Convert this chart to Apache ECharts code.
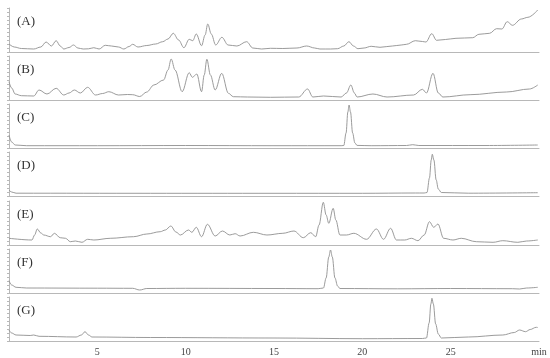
<!DOCTYPE html>
<html>
<head>
<meta charset="utf-8">
<script src="https://cdn.jsdelivr.net/npm/echarts@6/dist/echarts.min.js"></script>
<style>html,body{margin:0;padding:0;background:#fff}#c{width:550px;height:358px}</style>
</head>
<body>
<div id="c"></div>
<script>
// Panel labels
const panelLabels = ['(A)', '(B)', '(C)', '(D)', '(E)', '(F)', '(G)'];
// x tick labels (every 5 min from 0 to 30)
const xTickLabels = ['', '5', '10', '15', '20', '25', 'min'];
// Traces: [retention time (min), relative intensity]
const traceA = [[0,8],[0.3,5],[0.7,3.5],[1.4,3],[1.8,5],[2.1,10],[2.4,6],[2.67,11.3],[2.9,6],[3.1,3],[3.4,4.5],[3.65,7],[3.9,4],[4.2,3],[4.5,3.2],[4.8,4.3],[5.1,3],[5.45,6.7],[5.8,6],[6.2,5],[6.5,3],[6.8,5.5],[7.0,7.7],[7.3,5],[7.8,6.5],[8.3,8],[8.7,10.3],[9.0,13],[9.3,18.7],[9.6,12],[9.9,4.3],[10.2,12.7],[10.4,11.3],[10.6,18],[10.9,6.3],[11.1,17],[11.25,28],[11.45,18],[11.7,7],[12.05,14.7],[12.4,7],[12.9,6],[13.45,10.3],[13.8,4],[14.3,3],[14.8,3.7],[15.5,3.5],[16.3,4],[16.85,6],[17.3,4],[17.6,3],[18.2,3],[18.6,3.3],[18.95,6],[19.24,10.3],[19.5,6],[19.75,3.3],[20.1,4],[20.5,5.7],[21.0,4.7],[21.7,6],[22.2,7],[22.5,7.7],[23.0,11.3],[23.4,10.5],[23.6,10],[23.93,18.3],[24.2,11.7],[24.7,12.5],[25.3,13.7],[26.25,14.3],[26.6,17.7],[27.2,18.7],[27.6,23.3],[27.9,23],[28.2,30.3],[28.5,26.7],[29.0,33],[29.37,34.7],[29.93,42]];
const traceB = [[0,18.3],[0.15,12],[0.35,6],[0.7,4.3],[1.4,4],[1.7,10],[2.15,6],[2.67,11.7],[3.1,5],[3.4,7],[3.7,10],[4.04,7],[4.45,12.7],[4.9,5],[5.3,6.5],[5.65,8.3],[6.2,5],[6.7,5.5],[7.0,5.3],[7.4,3.5],[7.8,8],[8.2,15],[8.75,20],[9.0,30],[9.18,41],[9.4,30],[9.8,8.3],[10.2,27.3],[10.38,22.7],[10.63,26],[10.9,8.3],[11.05,25],[11.2,40.7],[11.4,25],[11.67,10],[12.04,26.7],[12.42,6.7],[12.7,3.3],[13.5,3],[14.8,2.7],[16.4,3],[16.9,11],[17.2,3],[17.8,4],[18.8,3],[19.1,7],[19.35,15],[19.55,7],[19.7,3],[20.6,6],[21.4,3],[22.9,5],[23.4,10.7],[23.63,7],[24.0,26.7],[24.3,7],[24.56,3],[26.1,5.3],[28.15,8],[29.46,11],[29.93,15]];
const traceC = [[0,13],[0.15,6],[0.35,3],[1.0,2.3],[5,2.3],[10,2.5],[15,2.3],[18.8,2.3],[18.95,2.5],[19.08,15],[19.18,36],[19.25,43],[19.33,36],[19.45,15],[19.58,5],[19.7,2.6],[20.5,2.3],[22.5,2.5],[22.85,3.3],[23.2,2.5],[27,2.5],[29.93,3]];
const traceD = [[0,6],[0.15,4],[0.4,2.8],[8,2.7],[15,2.7],[20,2.7],[23.0,3],[23.5,3],[23.66,3.5],[23.8,18],[23.9,36],[23.96,41.7],[24.05,36],[24.18,16],[24.3,7],[24.47,3.5],[26,2.8],[29.93,3.3]];
const traceE = [[0,6.7],[1.3,5],[1.45,10],[1.6,16],[1.8,12],[1.97,10],[2.35,8.3],[2.57,11.7],[2.9,7.3],[3.2,6.7],[3.47,3.3],[3.76,4],[4.13,2.7],[4.45,5.7],[4.8,5],[5.73,6.7],[7.05,8.3],[7.8,11],[8.56,13.3],[8.85,15],[9.16,19],[9.45,13],[9.7,10],[10.16,15],[10.35,12.7],[10.6,17.7],[10.9,8.3],[11.23,20.7],[11.67,9],[12.08,14],[12.5,10],[12.8,11.3],[13.08,9],[13.83,12.7],[14.6,10],[15.5,11.7],[16.13,14],[16.66,7.3],[17.08,12.3],[17.36,8.3],[17.55,20],[17.79,42.7],[17.95,30],[18.1,21.7],[18.35,36.7],[18.5,25],[18.73,10],[19.1,10],[19.52,11.7],[20.24,5.7],[20.8,16],[21.2,5.7],[21.6,16.7],[21.93,5],[22.4,5],[22.78,6.7],[23.15,4.3],[23.5,10],[23.8,23.3],[24.04,17.7],[24.28,21],[24.6,6.7],[25.13,5],[25.6,6.7],[26.45,3.3],[27.4,2.7],[27.95,4.3],[28.8,2.7],[29.3,4],[29.93,5]];
const traceF = [[0,12.3],[0.15,8],[0.4,5.7],[1.0,5],[5,4.8],[7.0,4.7],[7.4,3],[7.8,4.5],[10,4.7],[15,4.5],[17.5,4.3],[17.8,5],[17.95,15],[18.1,36],[18.2,43],[18.3,36],[18.45,15],[18.6,7],[18.73,4.5],[22,4.2],[25,4.5],[28.5,4.3],[28.9,4],[29.3,5],[29.93,5.7]];
const traceG = [[0,11],[0.15,8],[0.4,6],[1.2,5.5],[1.4,6],[1.7,4.7],[3.8,4],[4.1,6],[4.3,9.3],[4.5,6],[4.7,4],[8,3.5],[15,3],[20,2.3],[23.4,2.5],[23.63,3],[23.78,18],[23.88,37],[23.94,42.7],[24.02,37],[24.15,17],[24.3,7],[24.47,3],[26,4],[27.95,6],[28.6,8.5],[28.9,11],[29.24,9.3],[29.5,11.5],[29.84,13.7],[29.93,13.5]];

const traces = [traceA, traceB, traceC, traceD, traceE, traceF, traceG];
const gridTops = [8, 56, 104, 152, 201, 249, 297];
const gridH = 44;

const axisColor = '#b8b8b8';
const lineColor = '#909090';

const grids = [], xAxes = [], yAxes = [], series = [], graphics = [];
traces.forEach((tr, i) => {
  const last = i === traces.length - 1;
  grids.push({left: 9, right: 11, top: gridTops[i], height: gridH});
  xAxes.push({
    type: 'value', gridIndex: i, min: 0, max: 30, interval: 5,
    axisLine: {show: true, lineStyle: {color: axisColor, width: 1}},
    axisTick: {show: false},
    splitLine: {show: false},
    axisLabel: last ? {
      show: true, margin: 6, color: '#444', fontFamily: 'Liberation Serif', fontSize: 10,
      formatter: v => xTickLabels[Math.round(v / 5)],
      showMinLabel: true, showMaxLabel: true
    } : {show: false}
  });
  yAxes.push({
    type: 'value', gridIndex: i, min: 0, max: 44, interval: 4,
    axisLine: {show: true, lineStyle: {color: axisColor, width: 1}},
    axisTick: {show: true, length: 2, lineStyle: {color: axisColor}},
    axisLabel: {show: false},
    splitLine: {show: false}
  });
  series.push({
    type: 'line', xAxisIndex: i, yAxisIndex: i, data: tr,
    showSymbol: false, smooth: 0.35, smoothMonotone: 'x',
    lineStyle: {color: lineColor, width: 0.9},
    silent: true, animation: false
  });
  graphics.push({
    type: 'text', left: 17, top: gridTops[i] + 7,
    style: {text: panelLabels[i], fill: '#333', font: '13px "Liberation Serif"'}
  });
});

const chart = echarts.init(document.getElementById('c'), null, {renderer: 'canvas'});
chart.setOption({
  animation: false,
  grid: grids, xAxis: xAxes, yAxis: yAxes, series: series, graphic: graphics
});
</script>
</body>
</html>
